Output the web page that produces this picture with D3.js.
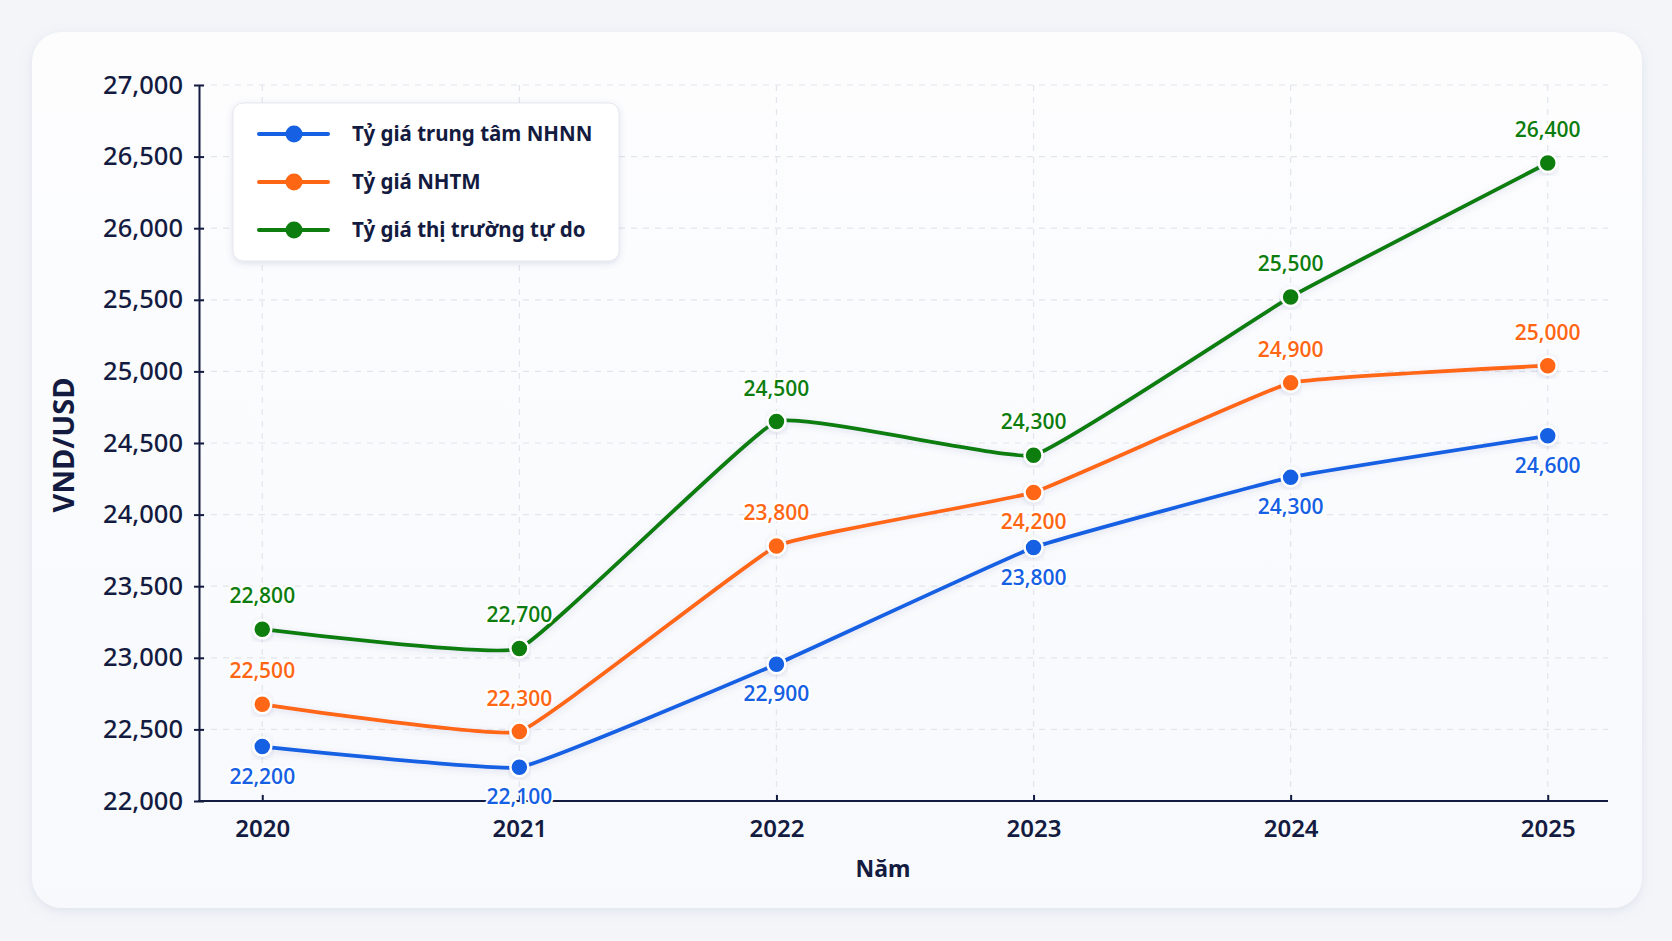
<!DOCTYPE html>
<html lang="vi">
<head>
  <meta charset="utf-8">
  <title>Tỷ giá VND/USD</title>
  <script src="https://d3js.org/d3.v7.min.js"></script>
  <style>
    body { margin: 0; background: #f3f5f9; }
    svg { display: block; font-family: "Noto Sans", "Open Sans", sans-serif; }
  </style>
</head>
<body>
  <svg width="1672" height="941"></svg>
  <script>
    // data (point positions) and the printed value labels
    const years = ["2020", "2021", "2022", "2023", "2024", "2025"];
    const nhnn = [22380, 22235, 22955, 23770, 24260, 24550];
    const nhtm = [22675, 22485, 23780, 24155, 24920, 25040];
    const tuDo = [23200, 23065, 24650, 24415, 25520, 26455];
    const nhnnLabels = [22200, 22100, 22900, 23800, 24300, 24600];
    const nhtmLabels = [22500, 22300, 23800, 24200, 24900, 25000];
    const tuDoLabels = [22800, 22700, 24500, 24300, 25500, 26400];
    const nhnnPlace = ["below", "below", "below", "below", "below", "below"];
    const nhtmPlace = ["above", "above", "above", "below", "above", "above"];
    const tuDoPlace = ["above", "above", "above", "above", "above", "above"];
    const yTicks = d3.range(22000, 27001, 500);

    const series = [
      { name: "Tỷ giá trung tâm NHNN", color: "#1560e3", values: nhnn, labels: nhnnLabels, place: nhnnPlace },
      { name: "Tỷ giá NHTM", color: "#ff6613", values: nhtm, labels: nhtmLabels, place: nhtmPlace },
      { name: "Tỷ giá thị trường tự do", color: "#0d7d0f", values: tuDo, labels: tuDoLabels, place: tuDoPlace }
    ];

    const ink = "#141b40";
    const plotLeft = 199, plotRight = 1608, plotTop = 85, plotBottom = 801;

    const svg = d3.select("svg");
    const defs = svg.append("defs");

    const grad = defs.append("linearGradient").attr("id", "cardFill")
      .attr("x1", 0).attr("y1", 0).attr("x2", 0).attr("y2", 1);
    grad.append("stop").attr("offset", "0%").attr("stop-color", "#fdfdfe");
    grad.append("stop").attr("offset", "100%").attr("stop-color", "#f7f9fc");

    const cardShadow = defs.append("filter").attr("id", "cardShadow")
      .attr("x", "-5%").attr("y", "-5%").attr("width", "110%").attr("height", "110%");
    cardShadow.append("feDropShadow").attr("dx", 0).attr("dy", 3).attr("stdDeviation", 6)
      .attr("flood-color", "#8090b0").attr("flood-opacity", 0.18);

    const softShadow = defs.append("filter").attr("id", "softShadow")
      .attr("x", "-10%").attr("y", "-20%").attr("width", "120%").attr("height", "140%");
    softShadow.append("feDropShadow").attr("dx", 0).attr("dy", 2).attr("stdDeviation", 3)
      .attr("flood-color", "#5060a0").attr("flood-opacity", 0.18);

    // card
    svg.append("rect")
      .attr("x", 32).attr("y", 32).attr("width", 1610).attr("height", 876)
      .attr("rx", 30)
      .attr("fill", "url(#cardFill)")
      .attr("filter", "url(#cardShadow)");

    const x = d3.scalePoint().domain(years).range([198, 1612]).padding(0.25);
    const y = d3.scaleLinear().domain([22000, 27000]).range([plotBottom, plotTop]);

    // grid
    const grid = svg.append("g").attr("stroke", "#e2e5ec").attr("stroke-width", 1.2)
      .attr("stroke-dasharray", "6,6");
    grid.selectAll("line.h").data(yTicks.slice(1)).enter().append("line")
      .attr("x1", plotLeft).attr("x2", plotRight)
      .attr("y1", d => y(d)).attr("y2", d => y(d));
    grid.selectAll("line.v").data(years).enter().append("line")
      .attr("x1", d => x(d)).attr("x2", d => x(d))
      .attr("y1", plotTop).attr("y2", plotBottom);

    // y axis
    const yAxis = svg.append("g").attr("transform", `translate(${plotLeft},0)`)
      .call(d3.axisLeft(y).tickValues(yTicks).tickFormat(d3.format(",")).tickSizeOuter(0).tickPadding(10));
    yAxis.select(".domain").attr("stroke", ink).attr("stroke-width", 2);
    yAxis.selectAll(".tick line").attr("stroke", ink).attr("stroke-width", 2).attr("x1", 5).attr("x2", -5);
    yAxis.selectAll(".tick text").attr("fill", ink).attr("font-size", 25.5).attr("font-weight", 500)
      .attr("font-family", "'Noto Sans', sans-serif");

    // x axis
    const xAxis = svg.append("g").attr("transform", `translate(0,${plotBottom})`)
      .call(d3.axisBottom(x).tickSizeOuter(0).tickSizeInner(0));
    xAxis.select(".domain").remove();
    xAxis.append("line").attr("x1", plotLeft - 1).attr("x2", plotRight)
      .attr("stroke", ink).attr("stroke-width", 2);
    xAxis.selectAll(".tick line").attr("stroke", ink).attr("stroke-width", 2).attr("y1", 0).attr("y2", -6);
    xAxis.selectAll(".tick text").attr("fill", ink).attr("font-size", 24).attr("font-weight", 600)
      .attr("y", 36).attr("dy", 0).attr("font-family", "'Noto Sans', sans-serif");

    // axis titles
    svg.append("text")
      .attr("transform", `translate(74,${(plotTop + plotBottom) / 2 + 2}) rotate(-90)`)
      .attr("text-anchor", "middle")
      .attr("font-size", 29).attr("font-weight", 700).attr("fill", ink)
      .text("VND/USD");
    svg.append("text")
      .attr("x", 883).attr("y", 877)
      .attr("text-anchor", "middle")
      .attr("font-size", 23).attr("font-weight", 700).attr("fill", ink)
      .text("Năm");

    // lines
    const line = d3.line()
      .x((d, i) => x(years[i]))
      .y(d => y(d))
      .curve(d3.curveCardinal.tension(0.72));

    series.forEach(s => {
      svg.append("path")
        .datum(s.values)
        .attr("d", line)
        .attr("fill", "none")
        .attr("stroke", s.color)
        .attr("stroke-width", 3.8)
        .attr("stroke-linecap", "round")
        .attr("filter", "url(#softShadow)");
    });

    series.forEach(s => {
      svg.append("g").selectAll("circle")
        .data(s.values)
        .enter()
        .append("circle")
        .attr("cx", (d, i) => x(years[i]))
        .attr("cy", d => y(d))
        .attr("r", 9)
        .attr("fill", s.color)
        .attr("stroke", "#fff")
        .attr("stroke-width", 2.5)
        .attr("filter", "url(#softShadow)");
    });

    // value labels
    series.forEach(s => {
      svg.append("g").selectAll("text")
        .data(s.values)
        .enter()
        .append("text")
        .attr("x", (d, i) => x(years[i]))
        .attr("y", (d, i) => y(d) + (s.place[i] === "above" ? -26 : 37))
        .attr("text-anchor", "middle")
        .attr("font-family", "'Open Sans', 'Noto Sans', sans-serif")
        .attr("font-size", 21)
        .attr("font-weight", 600)
        .attr("fill", s.color)
        .attr("stroke", "#fff")
        .attr("stroke-width", 4)
        .attr("stroke-linejoin", "round")
        .attr("paint-order", "stroke")
        .text((d, i) => d3.format(",")(s.labels[i]));
    });

    // legend
    const legend = svg.append("g").attr("transform", "translate(233,103)");
    legend.append("rect")
      .attr("width", 386).attr("height", 158).attr("rx", 10)
      .attr("fill", "#fff")
      .attr("stroke", "#e4e7ee")
      .attr("filter", "url(#softShadow)");
    const item = legend.selectAll("g.item")
      .data(series)
      .enter()
      .append("g")
      .attr("transform", (d, i) => `translate(0,${31 + i * 48})`);
    item.append("line")
      .attr("x1", 26).attr("x2", 95)
      .attr("stroke", d => d.color).attr("stroke-width", 4).attr("stroke-linecap", "round");
    item.append("circle")
      .attr("cx", 61).attr("r", 8.5)
      .attr("fill", d => d.color);
    item.append("text")
      .attr("x", 119).attr("dy", "0.35em")
      .attr("font-size", 20.5).attr("font-weight", 700).attr("fill", ink)
      .text(d => d.name);
  </script>
</body>
</html>
